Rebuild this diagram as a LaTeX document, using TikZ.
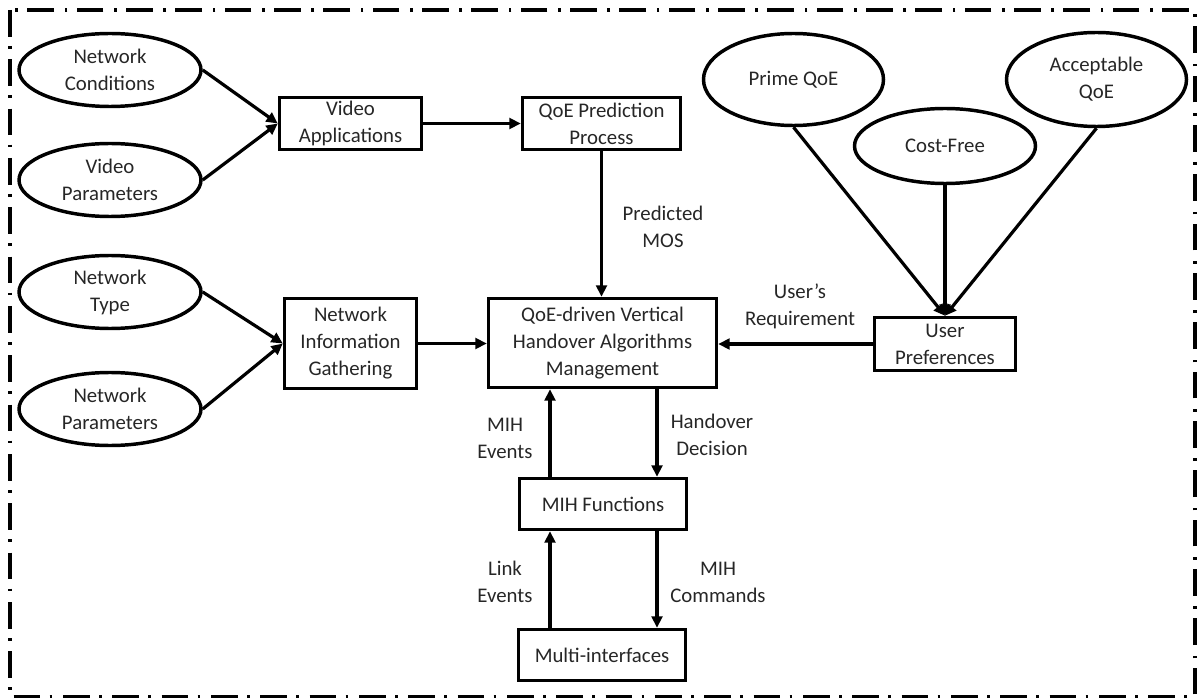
\documentclass[tikz,border=0pt]{standalone}
\usepackage{fontspec}
\setmainfont{Carlito}
\usetikzlibrary{arrows.meta,shapes.geometric}
\begin{document}
\begin{tikzpicture}[x=0.75pt,y=-0.75pt,
  every node/.style={font=\fontsize{15.6}{20.25}\selectfont, align=center, text=black!85},
  oval/.style={ellipse, draw, line width=2.6pt, inner sep=0pt},
  box/.style={rectangle, draw, line width=2.6pt, inner sep=0pt},
  conn/.style={line width=2.4pt, -{Triangle[length=8.5pt,width=8pt]}},
  frame/.style={line width=2.6pt, dash pattern=on 20pt off 7pt on 2pt off 8pt}]
\useasboundingbox (0,0) rectangle (1198,698);
\draw[frame] (10,10) rectangle (1195,697);
% ellipses
\node[oval, minimum width=136.5pt, minimum height=54.75pt] (nc) at (110,70) {Network\\Conditions};
\node[oval, minimum width=136.5pt, minimum height=54.75pt] (vp) at (110,180) {Video\\Parameters};
\node[oval, minimum width=136.5pt, minimum height=54.75pt] (nt) at (110,292) {Network\\Type};
\node[oval, minimum width=136.5pt, minimum height=54.75pt] (np) at (110,409) {Network\\Parameters};
\node[oval, minimum width=135pt, minimum height=69pt] (pq) at (793.5,79.5) {Prime QoE};
\node[oval, minimum width=135.75pt, minimum height=56.25pt] (cf) at (945,146) {Cost-Free};
\node[oval, minimum width=135pt, minimum height=70.5pt] (aq) at (1096.5,79.5) {Acceptable\\QoE};
% boxes
\node[box, minimum width=106.5pt, minimum height=39pt] (va) at (350.5,123.5) {Video\\Applications};
\node[box, minimum width=118.5pt, minimum height=39pt] (qp) at (601.5,123.5) {QoE Prediction\\Process};
\node[box, minimum width=99pt, minimum height=67.5pt] (nig) at (350.5,343.5) {Network\\Information\\Gathering};
\node[box, minimum width=171pt, minimum height=66.75pt] (qd) at (602.5,343) {QoE-driven Vertical\\Handover Algorithms\\Management};
\node[box, minimum width=105.75pt, minimum height=39.75pt] (up) at (945,344) {User\\Preferences};
\node[box, minimum width=125.25pt, minimum height=38.25pt] (mf) at (603,504) {MIH Functions};
\node[box, minimum width=125.25pt, minimum height=38.25pt] (mi) at (602,655) {Multi-interfaces};
% labels
\node (lmos) at (663,227) {Predicted\\MOS};
\node (lreq) at (800,306) {User’s\\Requirement};
\node (lmihe) at (505,438) {MIH\\Events};
\node (lhd) at (712,435) {Handover\\Decision};
\node (llink) at (505,582) {Link\\Events};
\node (lcmd) at (718,582) {MIH\\Commands};
% connectors
\draw[conn] (nc.east) -- (va.west);
\draw[conn] (vp.east) -- (va.west);
\draw[conn] (nt.east) -- (nig.west);
\draw[conn] (np.east) -- (nig.west);
\draw[conn] (va) -- (qp);
\draw[conn] (qp.south) -- (qp.south |- qd.north);
\draw[conn] (nig.east) -- (nig.east -| qd.west);
\draw[conn] (up.west) -- (up.west -| qd.east);
\draw[conn] (pq.south) -- (up.north);
\draw[conn] (cf.south) -- (up.north);
\draw[conn] (aq.south) -- (up.north);
\draw[conn] ([xshift=-39.75pt]mf.north) -- ([xshift=-39.75pt]mf.north |- qd.south);
\draw[conn] ([xshift=40.5pt]qd.south -| mf.north) -- ([xshift=40.5pt]mf.north);
\draw[conn] ([xshift=-39.75pt]mf.south |- mi.north) -- ([xshift=-39.75pt]mf.south);
\draw[conn] ([xshift=40.5pt]mf.south) -- ([xshift=40.5pt]mf.south |- mi.north);
\end{tikzpicture}
\end{document}
